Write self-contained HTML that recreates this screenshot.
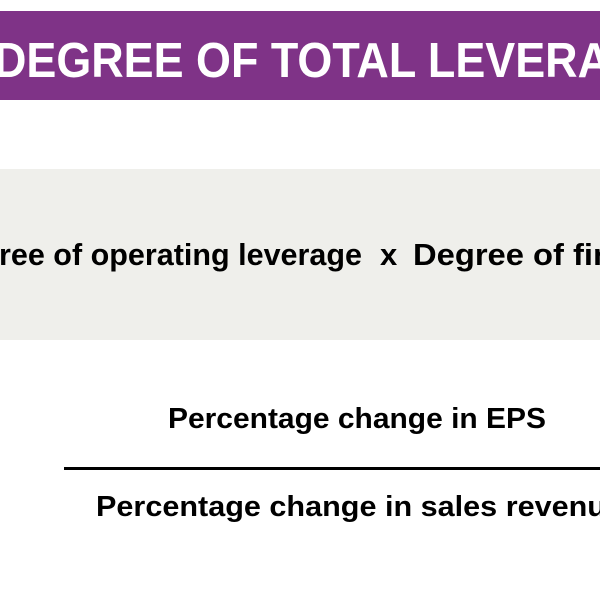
<!DOCTYPE html>
<html><head><meta charset="utf-8"><style>
html,body{margin:0;padding:0;background:#fff;width:600px;height:600px;overflow:hidden}
svg{display:block}
text{font-family:"Liberation Sans",sans-serif;font-weight:bold}
</style></head><body>
<svg width="600" height="600" viewBox="0 0 600 600">
<rect width="600" height="600" fill="#fff"/>
<rect x="0" y="11" width="600" height="89" fill="#7f3387"/>
<text x="-6" y="77" font-size="49" fill="#fff" textLength="616" lengthAdjust="spacingAndGlyphs">DEGREE OF TOTAL LEVERA</text>
<rect x="0" y="169" width="600" height="171" fill="#efefeb"/>
<text x="-1" y="265" font-size="31" fill="#000" textLength="363" lengthAdjust="spacingAndGlyphs">ree of operating leverage</text>
<text x="380" y="265" font-size="31" fill="#000">x</text>
<text x="413" y="265" font-size="31" fill="#000" textLength="200" lengthAdjust="spacingAndGlyphs">Degree of fin</text>
<text x="168" y="428" font-size="29" fill="#000" textLength="378" lengthAdjust="spacingAndGlyphs">Percentage change in EPS</text>
<rect x="64" y="467" width="536" height="3" fill="#000"/>
<text x="96" y="516" font-size="29" fill="#000" textLength="510" lengthAdjust="spacingAndGlyphs">Percentage change in sales revenu</text>
</svg>
</body></html>
